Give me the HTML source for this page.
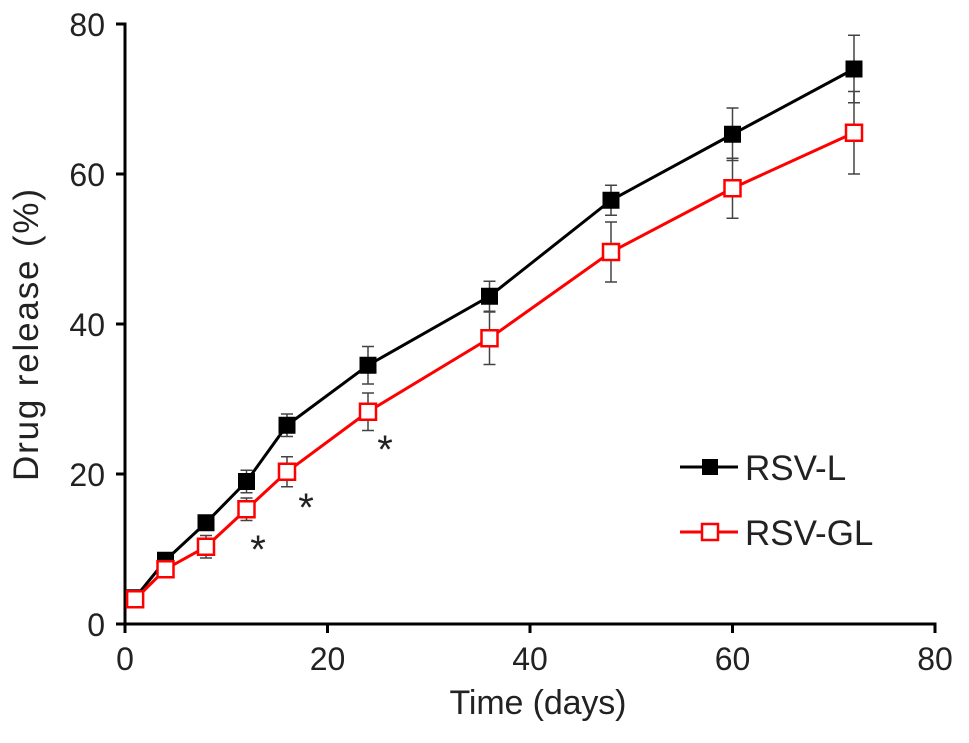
<!DOCTYPE html>
<html><head><meta charset="utf-8"><style>
body{margin:0;background:#fff;}
svg text{font-family:"Liberation Sans",Arial,sans-serif;fill:#222;}
</style></head><body>
<svg id="chart" width="969" height="738" xmlns="http://www.w3.org/2000/svg">
<g id="axes"></g>
<g id="series"></g>
<g id="legend">
  <line x1="680" y1="467" x2="738" y2="467" stroke="#000" stroke-width="3"/>
  <rect x="702" y="459" width="16" height="16" fill="#000"/>
  <text x="745" y="480" font-size="35">RSV-L</text>
  <line x1="680" y1="532" x2="738" y2="532" stroke="#f00" stroke-width="3"/>
  <rect x="702" y="524" width="16" height="16" fill="#fff" stroke="#f00" stroke-width="2.5"/>
  <text x="745" y="545" font-size="35">RSV-GL</text>
</g>
<text x="258" y="563" font-size="40" fill="#333" text-anchor="middle">*</text>
<text x="306" y="521" font-size="40" text-anchor="middle">*</text>
<text x="385" y="463" font-size="40" text-anchor="middle">*</text>
<text x="538" y="714" font-size="34" text-anchor="middle" textLength="177">Time (days)</text>
<text x="0" y="0" font-size="35" text-anchor="middle" textLength="292" transform="translate(38,335) rotate(-90)">Drug release (%)</text>
</svg>
<script>
const days = [1,4,8,12,16,24,36,48,60,72];
const rsvL = [3.5,8.5,13.5,19,26.5,34.5,43.7,56.5,65.3,74];
const rsvLErr = [0.5,1,1,1.5,1.5,2.5,2,2,3.5,4.5];
const rsvGL = [3.3,7.3,10.3,15.3,20.3,28.3,38.1,49.6,58.1,65.5];
const rsvGLErr = [0.5,1,1.5,1.5,2,2.5,3.5,4,4,5.5];
const xTicks = [0,20,40,60,80];
const yTicks = [0,20,40,60,80];
const X0=125,X1=935,Y0=624,Y1=24;
const xs=v=>X0+(v-0)/80*(X1-X0);
const ys=v=>Y0-(v-0)/80*(Y0-Y1);
const NS="http://www.w3.org/2000/svg";
function mk(tag,attrs,parent){const e=document.createElementNS(NS,tag);for(const k in attrs)e.setAttribute(k,attrs[k]);parent.appendChild(e);return e;}
const ax=document.getElementById('axes');
let e=mk('line',{x1:X0-1.5,y1:Y0,x2:X1+1.5,y2:Y0,stroke:'#000','stroke-width':3},ax);


e=mk('line',{x1:X0,y1:Y0+1.5,x2:X0,y2:Y1-1.5,stroke:'#000','stroke-width':3},ax);


xTicks.forEach(t=>{
  const l=mk('line',{x1:xs(t),y1:Y0,x2:xs(t),y2:Y0+9,stroke:'#000','stroke-width':3},ax);
  
  
  const tx=mk('text',{x:xs(t),y:Y0+46,'font-size':32,'text-anchor':'middle'},ax);tx.textContent=t;
  
  
});
yTicks.forEach(t=>{
  const l=mk('line',{x1:X0-9,y1:ys(t),x2:X0,y2:ys(t),stroke:'#000','stroke-width':3},ax);
  
  
  const tx=mk('text',{x:X0-20,y:ys(t)+12,'font-size':32,'text-anchor':'end'},ax);tx.textContent=t;
  
  
});
const sg=document.getElementById('series');
function series(vals,errs,color,filled,name){
  const g=mk('g',{},sg);
  
  
  vals.forEach((v,i)=>{
    const x=xs(days[i]);
    const eb=mk('path',{d:`M${x},${ys(v+errs[i])}V${ys(v-errs[i])}M${x-6},${ys(v+errs[i])}H${x+6}M${x-6},${ys(v-errs[i])}H${x+6}`,stroke:'#444','stroke-width':1.5,fill:'none'},g);
    
    
  });
  const p=mk('polyline',{points:vals.map((v,i)=>xs(days[i])+','+ys(v)).join(' '),fill:'none',stroke:color,'stroke-width':3},g);
  
  
  vals.forEach((v,i)=>{
    const r=mk('rect',{x:xs(days[i])-8,y:ys(v)-8,width:16,height:16,fill:filled?color:'#fff',stroke:color,'stroke-width':filled?1:2.5},g);
    
    
  });
}
series(rsvL,rsvLErr,'#000',true,'rsv-l');
series(rsvGL,rsvGLErr,'#f00',false,'rsv-gl');
</script>
</body></html>
